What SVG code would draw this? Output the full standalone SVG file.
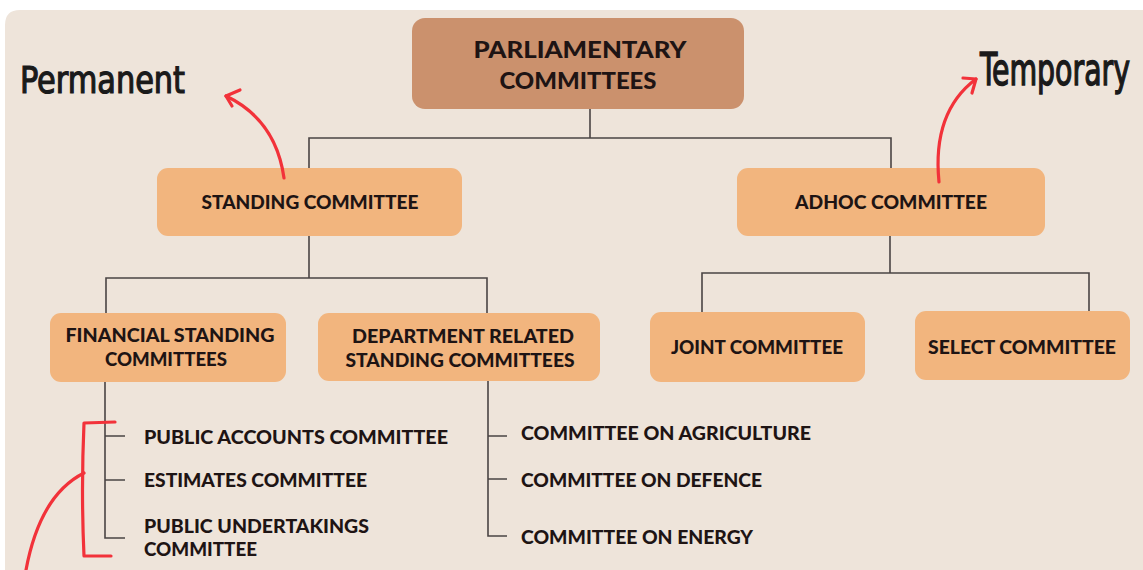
<svg xmlns="http://www.w3.org/2000/svg" width="1143" height="570" viewBox="0 0 1143 570">
  <defs>
    <style>
      .root { fill: #CB916D; }
      .box { fill: #F2B57E; }
      .lbl { font-family: "Lato", "Liberation Sans", sans-serif; font-weight: 900; fill: #1E1414; text-anchor: middle; }
      .item { font-family: "Lato", "Liberation Sans", sans-serif; font-weight: 900; fill: #1E1414; font-size: 18px; }
      .conn { fill: none; stroke: #4A4444; stroke-width: 1.6; }
      .red { fill: none; stroke: #F2323A; stroke-width: 3.2; stroke-linecap: round; stroke-linejoin: round; }
      .hand { font-family: "DejaVu Sans Condensed", "DejaVu Sans", sans-serif; fill: #1A1A1A; font-size: 38px; stroke: #1A1A1A; stroke-width: 1.2; }
    </style>
  </defs>
  <rect x="0" y="0" width="1143" height="570" fill="#FFFFFF"/>
  <path d="M5,25 Q5,10 20,10 L1143,10 L1143,570 L5,570 Z" fill="#EEE4DA"/>

  <g id="connectors">
    <path class="conn" d="M590,109 V138 M309,168 V138 H891 V168"/>
    <path class="conn" d="M309,236 V278 M106,313 V278 H487 V313"/>
    <path class="conn" d="M890,236 V273 M702,312 V273 H1089 V312"/>
    <path class="conn" d="M105,382 V538 H125 M105,436 H125 M105,480 H125"/>
    <path class="conn" d="M488,381 V536 H507 M488,436 H507 M488,479 H507"/>
  </g>

  <g id="root">
    <rect class="root" x="412" y="18" width="332" height="91" rx="13"/>
    <text class="lbl" x="580" y="58" font-size="23" textLength="213" lengthAdjust="spacingAndGlyphs">PARLIAMENTARY</text>
    <text class="lbl" x="578" y="89" font-size="23" textLength="157" lengthAdjust="spacingAndGlyphs">COMMITTEES</text>
  </g>

  <g id="standing">
    <rect class="box" x="157" y="168" width="305" height="68" rx="11"/>
    <text class="lbl" x="310" y="209" font-size="19" textLength="217" lengthAdjust="spacingAndGlyphs">STANDING COMMITTEE</text>
  </g>

  <g id="adhoc">
    <rect class="box" x="737" y="168" width="308" height="68" rx="11"/>
    <text class="lbl" x="891" y="209" font-size="19" textLength="192" lengthAdjust="spacingAndGlyphs">ADHOC COMMITTEE</text>
  </g>

  <g id="financial">
    <rect class="box" x="50" y="313" width="236" height="69" rx="11"/>
    <text class="lbl" x="170" y="342" font-size="19" textLength="209" lengthAdjust="spacingAndGlyphs">FINANCIAL STANDING</text>
    <text class="lbl" x="166" y="366" font-size="19" textLength="122" lengthAdjust="spacingAndGlyphs">COMMITTEES</text>
  </g>

  <g id="department">
    <rect class="box" x="318" y="313" width="282" height="68" rx="11"/>
    <text class="lbl" x="463" y="343" font-size="19" textLength="222" lengthAdjust="spacingAndGlyphs">DEPARTMENT RELATED</text>
    <text class="lbl" x="460" y="367" font-size="19" textLength="229" lengthAdjust="spacingAndGlyphs">STANDING COMMITTEES</text>
  </g>

  <g id="joint">
    <rect class="box" x="650" y="312" width="215" height="70" rx="11"/>
    <text class="lbl" x="757" y="354" font-size="19" textLength="172" lengthAdjust="spacingAndGlyphs">JOINT COMMITTEE</text>
  </g>

  <g id="select">
    <rect class="box" x="915" y="311" width="215" height="69" rx="11"/>
    <text class="lbl" x="1022" y="354" font-size="19" textLength="188" lengthAdjust="spacingAndGlyphs">SELECT COMMITTEE</text>
  </g>

  <g id="financial-items">
    <text class="item" x="144" y="444" textLength="304" lengthAdjust="spacingAndGlyphs">PUBLIC ACCOUNTS COMMITTEE</text>
    <text class="item" x="144" y="487" textLength="223" lengthAdjust="spacingAndGlyphs">ESTIMATES COMMITTEE</text>
    <text class="item" x="144" y="533" textLength="225" lengthAdjust="spacingAndGlyphs">PUBLIC UNDERTAKINGS</text>
    <text class="item" x="144" y="556" textLength="113" lengthAdjust="spacingAndGlyphs">COMMITTEE</text>
  </g>

  <g id="department-items">
    <text class="item" x="521" y="440" textLength="290" lengthAdjust="spacingAndGlyphs">COMMITTEE ON AGRICULTURE</text>
    <text class="item" x="521" y="487" textLength="241" lengthAdjust="spacingAndGlyphs">COMMITTEE ON DEFENCE</text>
    <text class="item" x="521" y="544" textLength="232" lengthAdjust="spacingAndGlyphs">COMMITTEE ON ENERGY</text>
  </g>

  <g id="annotations">
    <text class="hand" x="20" y="93" textLength="165" lengthAdjust="spacingAndGlyphs">Permanent</text>
    <text class="hand" transform="translate(980,85) scale(1,1.15)" x="0" y="0" font-size="28" textLength="150" lengthAdjust="spacingAndGlyphs">Temporary</text>
    <path class="red" d="M284,178 Q276,120 226,96"/>
    <path class="red" d="M240,90 L226,96 L232,106"/>
    <path class="red" d="M939,182 Q932,112 976,79"/>
    <path class="red" d="M963,78 L976,79 L972,93"/>
    <path class="red" d="M115,422 L84,423 Q81,490 84,556 L111,556"/>
    <path class="red" d="M84,473 Q40,495 26,570"/>
  </g>
</svg>
